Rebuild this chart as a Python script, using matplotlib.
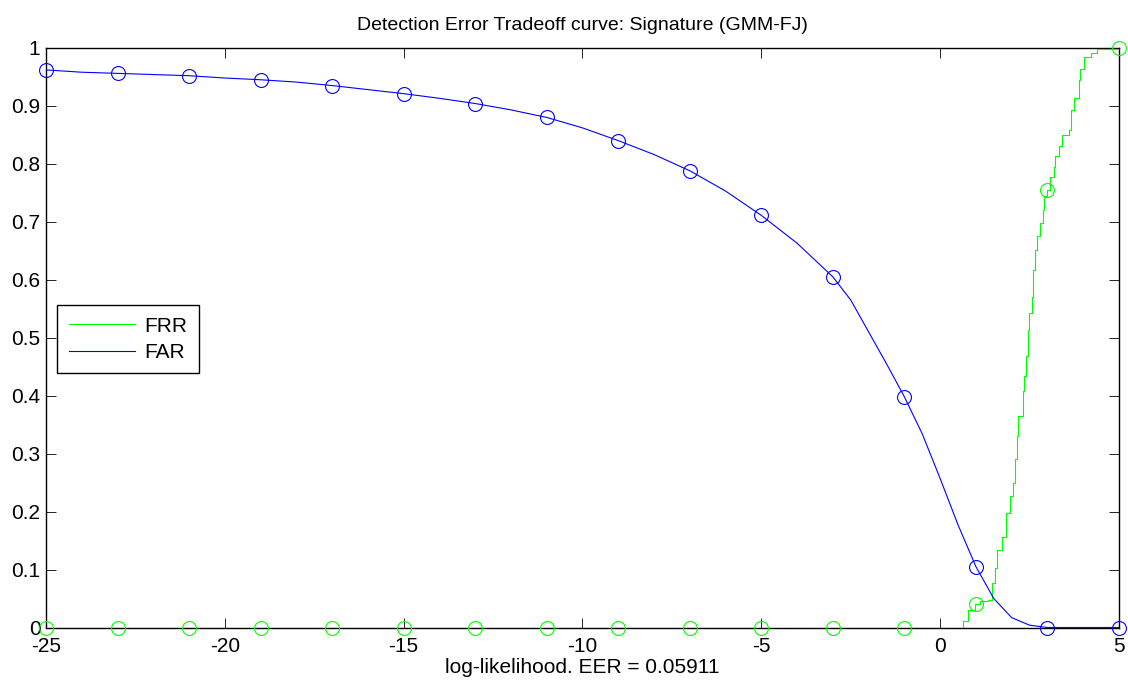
import matplotlib
matplotlib.use("Agg")
import matplotlib.pyplot as plt

plt.rcParams['font.family'] = ['Liberation Sans', 'DejaVu Sans']

# FAR curve
far_x = [-25, -24, -23, -22, -21, -20, -19, -18, -17, -16, -15, -14, -13, -12, -11, -10,
         -9, -8, -7, -6, -5, -4, -3, -2.5, -2, -1.5, -1, -0.5, 0, 0.5, 1, 1.5, 2, 2.5, 3, 5]
far_y = [0.962, 0.958, 0.956, 0.954, 0.952, 0.948, 0.945, 0.941, 0.935, 0.928, 0.921, 0.913,
         0.904, 0.893, 0.880, 0.862, 0.840, 0.816, 0.788, 0.753, 0.711, 0.663, 0.605, 0.565,
         0.510, 0.455, 0.398, 0.334, 0.257, 0.177, 0.105, 0.050, 0.017, 0.004, 0.0, 0.0]

# FRR staircase
frr_x = [-25, 0.65, 0.79, 0.98, 1.12, 1.35, 1.44, 1.54, 1.60, 1.72, 1.85, 1.96, 2.05, 2.10,
         2.14, 2.19, 2.31, 2.35, 2.40, 2.46, 2.49, 2.56, 2.61, 2.66, 2.70, 2.80, 2.87, 2.91,
         3.00, 3.06, 3.17, 3.22, 3.31, 3.40, 3.61, 3.66, 3.73, 3.87, 3.90, 4.03, 4.21, 4.38, 5]
frr_y = [0, 0.011, 0.031, 0.041, 0.045, 0.048, 0.077, 0.103, 0.134, 0.157, 0.198, 0.227, 0.250,
         0.290, 0.331, 0.365, 0.408, 0.434, 0.468, 0.514, 0.543, 0.571, 0.617, 0.652, 0.675,
         0.698, 0.720, 0.744, 0.755, 0.778, 0.795, 0.813, 0.830, 0.850, 0.859, 0.893, 0.913,
         0.945, 0.963, 0.985, 0.991, 0.998, 1.0]

# Marker samples
mark_x = [-25, -23, -21, -19, -17, -15, -13, -11, -9, -7, -5, -3, -1, 1, 3, 5]
far_mark = [0.962, 0.956, 0.952, 0.945, 0.935, 0.921, 0.904, 0.880, 0.840, 0.788, 0.711,
            0.605, 0.398, 0.105, 0.0, 0.0]
frr_mark = [0, 0, 0, 0, 0, 0, 0, 0, 0, 0, 0, 0, 0, 0.040, 0.755, 1.0]

title = "Detection Error Tradeoff curve: Signature (GMM-FJ)"
xlabel = "log-likelihood. EER = 0.05911"
xticks = [-25, -20, -15, -10, -5, 0, 5]
yticks = [0, 0.1, 0.2, 0.3, 0.4, 0.5, 0.6, 0.7, 0.8, 0.9, 1]
ytick_labels = ["0", "0.1", "0.2", "0.3", "0.4", "0.5", "0.6", "0.7", "0.8", "0.9", "1"]

green = (0, 1, 0)
blue = (0, 0, 1)

fig = plt.figure(figsize=(11.28, 6.84), dpi=100)
ax = fig.add_axes([0.0408, 0.0826, 0.9512, 0.8474])

ax.plot(frr_x, frr_y, color=green, lw=0.8, drawstyle='steps-post', label='FRR', zorder=3)
ax.plot(far_x, far_y, color=blue, lw=0.8, label='FAR', zorder=3)
ax.plot(mark_x, frr_mark, linestyle='none', marker='o', ms=10, mfc='none', mec=green,
        mew=0.8, clip_on=False, zorder=4)
ax.plot(mark_x, far_mark, linestyle='none', marker='o', ms=10, mfc='none', mec=blue,
        mew=0.8, clip_on=False, zorder=4)

ax.set_xlim(-25, 5)
ax.set_ylim(0, 1)
ax.set_xticks(xticks)
ax.set_xticklabels([str(t) for t in xticks])
ax.set_yticks(yticks)
ax.set_yticklabels(ytick_labels)
ax.tick_params(direction='in', length=7.5, width=0.6, top=True, right=True,
               labelsize=15)
ax.tick_params(axis='x', pad=6.5)
ax.tick_params(axis='y', pad=4)
for s in ax.spines.values():
    s.set_linewidth(1.0)

ax.set_title(title, fontsize=14, pad=13)
ax.set_xlabel(xlabel, fontsize=15, labelpad=2)

leg = ax.legend(loc='upper left', bbox_to_anchor=(0.0103, 0.556), fontsize=15,
                frameon=True, fancybox=False, framealpha=1, edgecolor='black',
                handlelength=3.2, borderaxespad=0, handletextpad=0.45, borderpad=0.55,
                labelspacing=0.35)
leg.get_frame().set_linewidth(1.0)

fig.savefig("out.png", dpi=100)
